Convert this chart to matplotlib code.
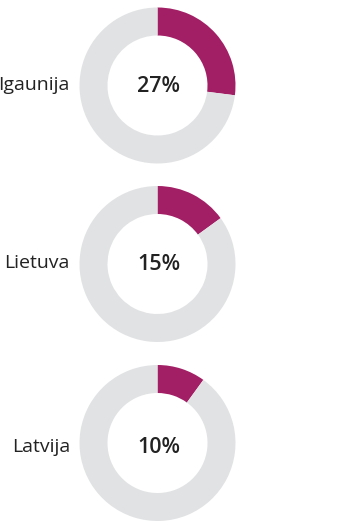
import matplotlib.pyplot as plt

countries = ['Igaunija', 'Lietuva', 'Latvija']
shares = [27, 15, 10]

accent = '#a21f65'
rest = '#e1e2e4'
text_color = '#222222'

W, H = 350, 532
centers_x = 157.5
centers_y = [85.5, 264, 443]
pct_baseline = [91.5, 270.5, 453]
name_baseline = [89.5, 268, 452]
outer_r = 78
ring_w = 28

plt.rcParams['font.family'] = ['Open Sans', 'DejaVu Sans']

fig = plt.figure(figsize=(W / 100, H / 100), dpi=100)
ax = fig.add_axes([0, 0, 1, 1])

for i, (name, share) in enumerate(zip(countries, shares)):
    ax.pie([share, 100 - share], colors=[accent, rest], startangle=90,
           counterclock=False, center=(centers_x, H - centers_y[i]), radius=outer_r,
           wedgeprops=dict(width=ring_w, linewidth=0))
    ax.text(centers_x + 1.5, H - pct_baseline[i], f'{share}%', ha='center',
            va='baseline', fontsize=15.5, fontweight='semibold', color=text_color)
    ax.text(70, H - name_baseline[i], name, ha='right', va='baseline',
            fontsize=14, color=text_color)

ax.set_xlim(0, W)
ax.set_ylim(0, H)
ax.set_aspect('equal')
ax.axis('off')

fig.savefig('out.png', dpi=100, facecolor='white')
